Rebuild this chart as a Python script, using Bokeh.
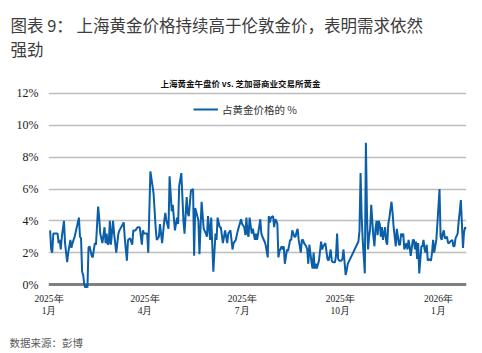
import datetime as dt
import pandas as pd
from bokeh.plotting import figure
from bokeh.models import (Range1d, FixedTicker, Label, Legend, LegendItem, Span,
                          ColumnDataSource, Title)
from bokeh.embed import file_html
from bokeh.resources import INLINE

# ---- data ----
days_since_2025_01_01 = [
    1, 2, 3, 4, 8, 9, 10, 11, 12, 14, 15, 17, 18, 20, 21, 22, 24, 28, 29, 30,
    31, 32, 33, 34, 35, 36, 37, 38, 40, 41, 42, 43, 44, 46, 47, 48, 50, 52, 53, 54,
    55, 56, 57, 58, 60, 61, 63, 65, 66, 70, 71, 73, 74, 76, 78, 79, 81, 83, 85, 87,
    88, 89, 92, 93, 95, 97, 98, 100, 101, 103, 104, 106, 108, 109, 110, 112, 113, 115, 116, 118,
    120, 121, 122, 124, 125, 126, 127, 129, 130, 131, 133, 135, 136, 137, 139, 140, 141, 143, 145, 147,
    148, 149, 151, 152, 154, 156, 157, 158, 160, 161, 163, 165, 166, 167, 168, 170, 171, 172, 173, 175,
    177, 180, 181, 183, 184, 185, 186, 187, 188, 190, 191, 193, 194, 195, 196, 198, 199, 200, 202, 203,
    205, 206, 207, 208, 210, 211, 212, 213, 214, 215, 216, 218, 219, 220, 221, 223, 224, 226, 227, 228,
    230, 231, 232, 233, 234, 236, 237, 238, 239, 241, 242, 243, 244, 246, 247, 248, 249, 250, 251, 253,
    255, 256, 257, 258, 259, 261, 262, 263, 264, 265, 266, 268, 269, 270, 271, 272, 274, 275, 276, 277,
    278, 279, 280, 290, 291, 292, 293, 294, 296, 297, 298, 299, 300, 301, 302, 304, 305, 306, 307, 308,
    309, 310, 311, 312, 313, 315, 316, 317, 318, 319, 321, 322, 323, 324, 325, 326, 327, 328, 329, 330,
    331, 332, 333, 335, 336, 337, 338, 339, 341, 342, 343, 344, 345, 346, 347, 349, 350, 351, 352, 353,
    354, 355, 356, 358, 359, 360, 361, 363, 364, 366, 367, 368, 369, 370, 371, 373, 374, 375, 376, 378,
    379, 380, 381, 383, 384, 385, 386, 388, 389, 390, 391,
]
premium_pct = [
    3.4, 2.2, 2.0, 3.2, 3.2, 2.6, 2.8, 2.2, 3.0, 4.0, 2.6, 1.4, 2.0, 2.8, 2.3, 2.6, 3.0, 4.2, 3.0, 2.9,
    0.8, 0.6, 0.0, -0.2, 0.0, -0.2, 2.3, 2.4, 1.8, 1.7, 2.2, 2.6, 2.5, 4.9, 4.2, 3.2, 2.6, 3.6, 2.6, 3.2,
    2.5, 2.6, 4.0, 2.5, 4.0, 3.2, 2.0, 3.2, 3.4, 3.9, 2.9, 1.5, 2.8, 2.9, 2.5, 3.4, 3.4, 3.6, 3.6, 2.5,
    3.4, 3.2, 3.2, 2.0, 7.1, 6.2, 5.7, 3.5, 2.8, 3.0, 3.8, 2.6, 4.0, 4.5, 4.0, 3.5, 6.8, 4.6, 5.0, 3.4,
    4.2, 3.8, 6.2, 7.0, 5.5, 4.0, 3.2, 5.5, 4.5, 4.3, 5.9, 6.0, 1.8, 4.8, 4.3, 4.0, 1.9, 5.2, 3.5, 3.2,
    3.0, 4.3, 2.8, 4.2, 0.8, 3.2, 2.8, 4.2, 3.6, 3.6, 2.6, 3.4, 3.0, 2.6, 3.2, 3.4, 2.8, 2.2, 2.6, 2.8,
    3.4, 4.1, 3.8, 3.6, 3.1, 4.2, 3.2, 3.0, 4.2, 3.2, 3.5, 2.8, 3.2, 2.8, 3.2, 4.1, 3.2, 3.0, 2.7, 2.5,
    1.7, 4.3, 3.9, 4.2, 4.3, 3.6, 4.1, 4.0, 3.8, 1.7, 2.1, 2.4, 2.2, 2.4, 1.3, 2.2, 2.1, 2.8, 2.8, 3.4,
    3.0, 3.0, 3.3, 3.5, 2.8, 2.0, 2.8, 2.8, 2.6, 2.4, 2.2, 1.3, 2.5, 1.4, 1.0, 2.0, 1.0, 1.3, 1.0, 1.5,
    2.7, 2.2, 2.4, 2.5, 2.6, 1.6, 1.5, 1.8, 2.2, 1.5, 1.4, 1.4, 1.8, 3.2, 1.6, 1.5, 1.5, 1.6, 2.2, 1.4,
    0.6, 0.9, 1.3, 2.7, 3.4, 7.0, 4.3, 2.8, 0.7, 8.9, 4.5, 2.2, 3.0, 3.5, 5.0, 3.0, 2.4, 3.5, 4.0, 3.1,
    4.0, 3.8, 3.0, 3.6, 2.8, 3.6, 2.7, 2.5, 3.8, 4.2, 5.2, 4.5, 3.6, 3.0, 2.4, 3.5, 3.0, 2.5, 2.5, 3.2,
    3.0, 3.2, 2.2, 2.6, 2.2, 2.8, 2.4, 1.8, 2.8, 2.8, 2.2, 2.7, 1.6, 2.6, 0.7, 2.4, 2.4, 2.8, 2.2, 2.0,
    2.5, 1.5, 1.6, 1.5, 2.0, 2.8, 2.0, 2.8, 3.8, 6.0, 3.0, 2.8, 3.2, 3.4, 2.9, 3.0, 2.6, 2.6, 2.7, 2.8,
    2.4, 2.4, 2.9, 3.2, 4.0, 4.6, 5.3, 2.3, 3.3, 3.6, 3.5,
]
y_ticks = [0, 2, 4, 6, 8, 10, 12]
y_tick_labels = ["0%", "2%", "4%", "6%", "8%", "10%", "12%"]
x_tick_dates = ["2025-01-01", "2025-04-01", "2025-07-01", "2025-10-01", "2026-01-01"]
x_tick_labels = ["2025年\n1月", "2025年\n4月", "2025年\n7月", "2025年\n10月", "2026年\n1月"]

title_text = "图表 9：  上海黄金价格持续高于伦敦金价，表明需求依然\n强劲"
subtitle = "上海黄金午盘价 vs. 芝加哥商业交易所黄金"
series_name = "占黄金价格的 %"
source_note = "数据来源：彭博"

# ---- build ----
dates = pd.Timestamp("2025-01-01") + pd.to_timedelta(days_since_2025_01_01, unit="D")
src = ColumnDataSource(dict(date=dates, pct=premium_pct))

LINE_BLUE = "#0b5ea8"
CJK = "Noto Sans CJK SC"
NARROW = "Liberation Sans Narrow"

p = figure(
    width=482, height=353, output_backend="svg", toolbar_location=None, title=None,
    x_axis_type="datetime",
    x_range=Range1d(dt.datetime(2024, 12, 31, 12), dt.datetime(2026, 1, 27, 7)),
    y_range=Range1d(-0.314, 13.445),
    min_border_left=48, min_border_right=16, min_border_top=70, min_border_bottom=64,
)
p.outline_line_color = None
p.background_fill_color = "white"
p.border_fill_color = "white"

p.xgrid.visible = False
p.ygrid.ticker = FixedTicker(ticks=[t for t in y_ticks if t != 0])
p.ygrid.grid_line_color = "#bdbdbd"
p.ygrid.grid_line_width = 1.3

ay = p.yaxis[0]
ay.ticker = FixedTicker(ticks=y_ticks)
ay.major_label_overrides = {t: l for t, l in zip(y_ticks, y_tick_labels)}
ay.axis_line_color = None
ay.major_tick_line_color = None
ay.minor_tick_line_color = None
ay.major_tick_out = 0
ay.major_tick_in = 0
ay.major_label_standoff = 10
ay.major_label_text_font = NARROW
ay.major_label_text_font_size = "12px"
ay.major_label_text_color = "#1a1a1a"

tick_ms = [pd.Timestamp(d).value / 1e6 for d in x_tick_dates]
ax = p.xaxis[0]
ax.ticker = FixedTicker(ticks=tick_ms)
ax.major_label_overrides = {t: l for t, l in zip(tick_ms, x_tick_labels)}
ax.axis_line_color = None
ax.major_tick_line_color = None
ax.minor_tick_line_color = None
ax.major_tick_out = 0
ax.major_tick_in = 0
ax.major_label_standoff = 4
ax.major_label_text_font = NARROW
ax.major_label_text_font_size = "9.5px"
ax.major_label_text_color = "#1a1a1a"

zero = Span(location=0, dimension="width", line_color="#7f7f7f", line_width=3, level="underlay")
p.add_layout(zero)

r = p.line("date", "pct", source=src, line_color=LINE_BLUE, line_width=2)

legend = Legend(
    items=[LegendItem(label=series_name, renderers=[r])],
    location=(145, 170), orientation="horizontal", glyph_width=25, glyph_height=20,
    label_standoff=4, padding=0, margin=0, spacing=0, border_line_color=None,
    background_fill_alpha=0, label_text_font=CJK, label_text_font_size="10.5px",
    label_text_color="#333333",
)
p.add_layout(legend)

p.add_layout(Label(x=192, y=207, x_units="screen", y_units="screen", text=subtitle,
                   text_align="center", text_baseline="middle", text_font=CJK,
                   text_font_style="bold", text_font_size="8.5px", text_color="#111111"))

p.add_layout(Title(text=title_text, align="left", offset=-38, standoff=20,
                   text_font=CJK, text_font_size="16.5px", text_font_style="normal",
                   text_color="#3c3c3c"), "above")
# leading empty line pushes the note down below the two-line tick labels
p.add_layout(Title(text="\n" + source_note, align="left", offset=-39, standoff=8,
                   text_font=CJK, text_font_size="10.5px", text_font_style="normal",
                   text_line_height=0.65, text_color="#595959"), "below")

open("out.html", "w").write(file_html(p, INLINE))
